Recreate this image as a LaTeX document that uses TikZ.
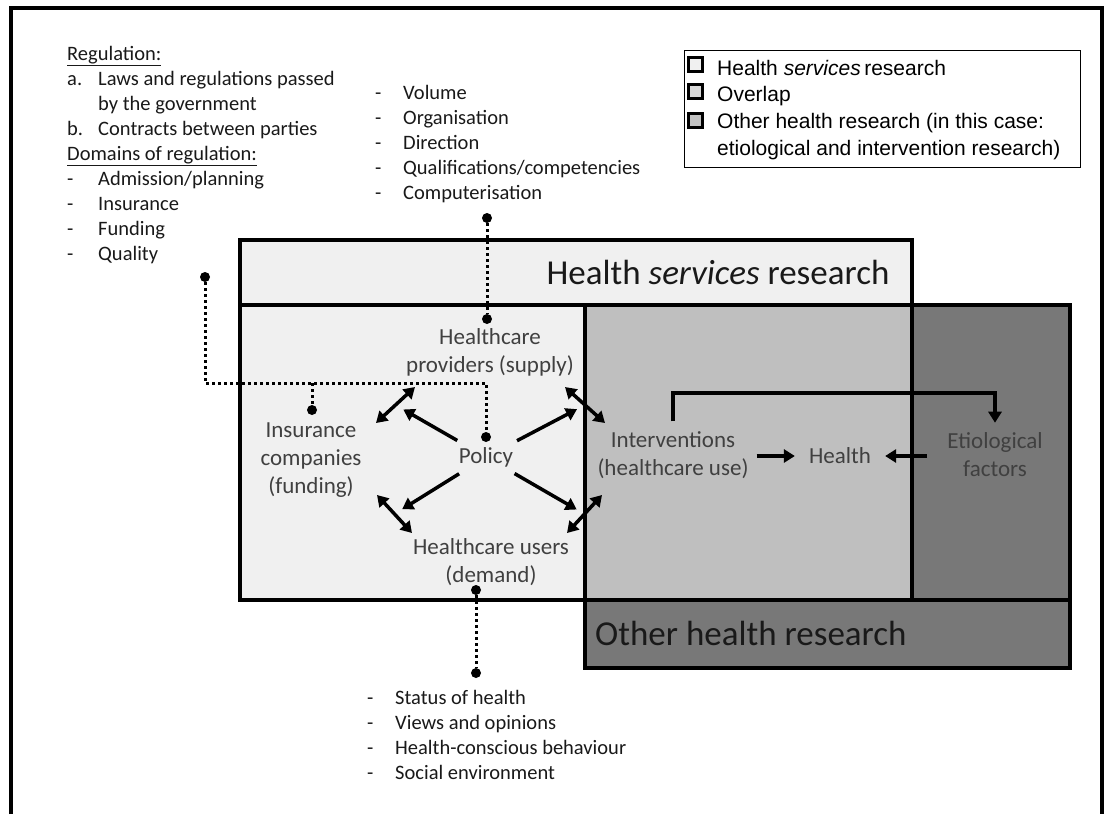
\documentclass[tikz,border=0pt]{standalone}
\usepackage{fontspec}
\setmainfont{Carlito}
\newfontfamily\legendfont{Liberation Sans}
\usepackage{tikz}
\usetikzlibrary{arrows.meta,calc,positioning}
\definecolor{hsrfill}{gray}{0.94}
\definecolor{overlapfill}{gray}{0.75}
\definecolor{otherfill}{gray}{0.47}
\definecolor{boxtext}{gray}{0.25}
\tikzset{
    mybox/.style={draw=black,line width=3.5pt},
    mytext/.style={text=boxtext,align=center,font=\fontsize{23}{28}\selectfont,inner sep=3pt},
    mylist/.style={anchor=north west,inner sep=0pt,text=black!90,font=\fontsize{20.5}{25}\selectfont},
    mybig/.style={text=black!90,font=\fontsize{35}{40}\selectfont,inner sep=0pt},
    myarrow/.style={line width=3.5pt,-{Triangle[length=11pt,width=13pt]}},
    mydouble/.style={line width=3.5pt,{Triangle[length=11pt,width=13pt]}-{Triangle[length=11pt,width=13pt]}},
    mydots/.style={line width=3pt,dash pattern=on 3pt off 3pt},
    mydot/.style={circle,fill=black,inner sep=0pt,minimum size=10pt},
    mykey/.style={draw=black,line width=3pt,minimum size=14pt,inner sep=0pt},
    mylegend/.style={anchor=base west,inner sep=0pt,align=left,font=\legendfont\fontsize{21}{27}\selectfont}
}

\begin{document}
\begin{tikzpicture}[x=1pt,y=-1pt]
    \useasboundingbox (0,0) rectangle (1107,814);

    % frame
    \draw[line width=3.5pt] (11,814) -- (11,8) -- (1102,8) -- (1102,814);

    % areas
    \fill[hsrfill] (240,240) rectangle (912,600);
    \fill[otherfill] (585,305) rectangle (1070,668);
    \fill[overlapfill] (585,305) rectangle (912,600);
    \draw[mybox] (240,240) rectangle (912,600);
    \draw[mybox] (585,305) rectangle (1070,668);
    \draw[mybox] (240,305) -- (585,305);
    \draw[mybox] (912,600) -- (1070,600);

    \node[mybig] (hsr) at (718,272) {Health \textit{services} research};
    \node[mybig,anchor=west] (ohr) at (595,633) {Other health research};

    % actors
    \node[mytext] (pol) at (486,457) {Policy};
    \node[mytext] (prov) at (490,352) {Healthcare\\providers (supply)};
    \node[mytext] (ins) at (311,460) {Insurance\\companies\\(funding)};
    \node[mytext] (usr) at (491,562) {Healthcare users\\(demand)};
    \node[mytext] (int) at (673,455) {Interventions\\(healthcare use)};
    \node[mytext] (hea) at (840,456) {Health};
    \node[mytext] (eti) at (995,455) {Etiological\\factors};

    % relations
    \coordinate (a1s) at (376,423);
    \coordinate (a1e) at (415,387);
    \coordinate (a2s) at (377,495);
    \coordinate (a2e) at (412,533);
    \coordinate (a3s) at (565,387);
    \coordinate (a3e) at (605,423);
    \coordinate (a4s) at (567,533);
    \coordinate (a4e) at (602,495);
    \draw[mydouble] (a1s) -- (a1e);
    \draw[mydouble] (a2s) -- (a2e);
    \draw[mydouble] (a3s) -- (a3e);
    \draw[mydouble] (a4s) -- (a4e);

    \draw[myarrow,shorten <=7pt,shorten >=9pt] (pol) -- ($(a1s)!0.5!(a1e)$);
    \draw[myarrow,shorten <=7pt,shorten >=9pt] (pol) -- ($(a2s)!0.5!(a2e)$);
    \draw[myarrow,shorten <=7pt,shorten >=9pt] (pol) -- ($(a3s)!0.5!(a3e)$);
    \draw[myarrow,shorten <=7pt,shorten >=9pt] (pol) -- ($(a4s)!0.5!(a4e)$);

    \draw[myarrow,shorten <=5pt,shorten >=11pt] (int.east |- hea.west) -- (hea.west);
    \draw[myarrow,shorten <=17pt,shorten >=11pt] (eti.west |- hea.east) -- (hea.east);
    \coordinate (elb) at (835,393);
    \draw[myarrow,shorten >=7pt] ([yshift=7pt]int.north) |- (elb) -| (eti.north);

    % dotted links
    \node[mydot] (t1) at (487,218) {};
    \node[mydot] (t2) at (487,319) {};
    \draw[mydots] (t1) -- (t2);

    \node[mydot] (r1) at (205,277) {};
    \node[mydot] (r2) at (486,437) {};
    \node[mydot] (r3) at (312,410) {};
    \coordinate (rc) at (312,383);
    \draw[mydots] (r1) |- (rc) -| (r2);
    \draw[mydots] (rc) -- (r3);

    \node[mydot] (b1) at (476,590) {};
    \node[mydot] (b2) at (476,673) {};
    \draw[mydots] (b1) -- (b2);

    % lists
    \node[mylist] (reg) at (67,43) {\begin{tabular}{@{}p{31pt}@{}l@{}}
        \multicolumn{2}{@{}l@{}}{\underline{Regulation:}}\\
        a. & Laws and regulations passed\\
           & by the government\\
        b. & Contracts between parties\\
        \multicolumn{2}{@{}l@{}}{\underline{Domains of regulation:}}\\
        -  & Admission/planning\\
        -  & Insurance\\
        -  & Funding\\
        -  & Quality
    \end{tabular}};

    \node[mylist] (sup) at (375,82) {\begin{tabular}{@{}p{28pt}@{}l@{}}
        - & Volume\\
        - & Organisation\\
        - & Direction\\
        - & Qualifications/competencies\\
        - & Computerisation
    \end{tabular}};

    \node[mylist] (dem) at (367,687) {\begin{tabular}{@{}p{28pt}@{}l@{}}
        - & Status of health\\
        - & Views and opinions\\
        - & Health-conscious behaviour\\
        - & Social environment
    \end{tabular}};

    % legend
    \draw[line width=1pt] (684,50) rectangle (1080,167);
    \node[mykey,fill=gray!12] (k1) at (695,64) {};
    \node[mykey,fill=gray!30] (k2) at (695,91) {};
    \node[mykey,fill=gray!47] (k3) at (695,120) {};
    \node[mylegend] (l1) at (717,75) {Health \textit{services}\,research};
    \node[mylegend] (l2) at (717,101) {Overlap};
    \node[mylegend] (l3) at (717,155) {Other health research (in this case:\\etiological and intervention research)};
\end{tikzpicture}
\end{document}
